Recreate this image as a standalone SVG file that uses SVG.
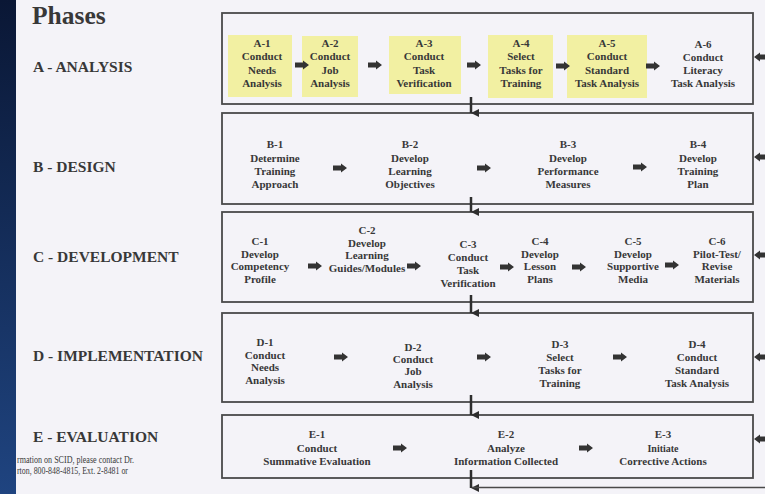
<svg xmlns="http://www.w3.org/2000/svg" xmlns:xlink="http://www.w3.org/1999/xlink" width="765" height="494" viewBox="0 0 765 494">
  <defs>
    <linearGradient id="bar" x1="0" y1="0" x2="0" y2="1">
      <stop offset="0" stop-color="#0a1735"/>
      <stop offset="1" stop-color="#1f4480"/>
    </linearGradient>
    <!-- small block arrow pointing right, origin at tail centre -->
    <path id="ar" d="M0,-2.5 H8 V-4.5 L14,0 L8,4.5 V2.5 H0 Z"/>
    <!-- block arrow pointing left, origin at tip -->
    <path id="al" d="M0,0 L6,-4.5 V-2.5 H12 V2.5 H6 V4.5 Z"/>
    <marker id="down" viewBox="0 0 8 8" refX="4" refY="8" markerWidth="8" markerHeight="8" markerUnits="userSpaceOnUse" orient="auto-start-reverse">
      <path d="M0,0 L8,0 L4,8 Z" fill="#2e2e2e"/>
    </marker>
    <style>
      .phase { fill: #f4f3f8; stroke: #4a4a4a; stroke-width: 1.8; }
      .hl { fill: #f2f0a2; }
      .t { font-family: "Liberation Serif", "Times New Roman", serif; font-weight: bold; font-size: 11px; fill: #383838; text-anchor: middle; }
      .lbl { font-family: "Liberation Serif", "Times New Roman", serif; font-weight: bold; font-size: 15.5px; fill: #383838; }
      .note { font-family: "Liberation Serif", "Times New Roman", serif; font-size: 9.8px; fill: #3a3a3a; }
      .arr { fill: #333333; }
      .flow { stroke: #2e2e2e; stroke-width: 2.5; fill: none; }
      .ret { stroke: #4a4a4a; stroke-width: 1.5; fill: none; }
    </style>
  </defs>

  <rect width="765" height="494" fill="#f4f3f8"/>

  <!-- heading and phase names -->
  <text x="32" y="24" font-family="'Liberation Serif', 'Times New Roman', serif" font-weight="bold" font-size="25.5" fill="#383838">Phases</text>
  <text class="lbl" x="33" y="72">A - ANALYSIS</text>
  <text class="lbl" x="33" y="172">B - DESIGN</text>
  <text class="lbl" x="33" y="262">C - DEVELOPMENT</text>
  <text class="lbl" x="33" y="361">D - IMPLEMENTATION</text>
  <text class="lbl" x="33" y="442">E - EVALUATION</text>

  <!-- contact note -->
  <text class="note" x="17" y="463" textLength="117" lengthAdjust="spacingAndGlyphs">rmation on SCID, please contact Dr.</text>
  <text class="note" x="17" y="474" textLength="111" lengthAdjust="spacingAndGlyphs">rton, 800-848-4815, Ext. 2-8481 or</text>

  <!-- phase frames -->
  <g id="phase-a"><rect class="phase" x="222" y="13" width="531" height="91"/></g>
  <g id="phase-b"><rect class="phase" x="222" y="113" width="531" height="91"/></g>
  <g id="phase-c"><rect class="phase" x="222" y="212" width="531" height="90"/></g>
  <g id="phase-d"><rect class="phase" x="222" y="313" width="531" height="89"/></g>
  <g id="phase-e"><rect class="phase" x="222" y="415" width="531" height="63"/></g>

  <!-- A: analysis steps -->
  <g id="a1"><rect class="hl" x="228" y="35" width="64" height="62"/>
    <text class="t" x="262" y="47">A-1<tspan x="262" dy="13.3">Conduct</tspan><tspan x="262" dy="13.3">Needs</tspan><tspan x="262" dy="13.3">Analysis</tspan></text></g>
  <g id="a2"><rect class="hl" x="302" y="36" width="56" height="61"/>
    <text class="t" x="330" y="47">A-2<tspan x="330" dy="13.3">Conduct</tspan><tspan x="330" dy="13.3">Job</tspan><tspan x="330" dy="13.3">Analysis</tspan></text></g>
  <g id="a3"><rect class="hl" x="389" y="36" width="72" height="58"/>
    <text class="t" x="424" y="47">A-3<tspan x="424" dy="13.3">Conduct</tspan><tspan x="424" dy="13.3">Task</tspan><tspan x="424" dy="13.3">Verification</tspan></text></g>
  <g id="a4"><rect class="hl" x="488" y="35" width="65" height="63"/>
    <text class="t" x="521" y="47">A-4<tspan x="521" dy="13.3">Select</tspan><tspan x="521" dy="13.3">Tasks for</tspan><tspan x="521" dy="13.3">Training</tspan></text></g>
  <g id="a5"><rect class="hl" x="567" y="35" width="80" height="63"/>
    <text class="t" x="607" y="47">A-5<tspan x="607" dy="13.3">Conduct</tspan><tspan x="607" dy="13.3">Standard</tspan><tspan x="607" dy="13.3">Task Analysis</tspan></text></g>
  <g id="a6">
    <text class="t" x="703" y="48">A-6<tspan x="703" dy="13">Conduct</tspan><tspan x="703" dy="13">Literacy</tspan><tspan x="703" dy="13">Task Analysis</tspan></text></g>

  <!-- B: design steps -->
  <g id="b1"><text class="t" x="275" y="148">B-1<tspan x="275" dy="14">Determine</tspan><tspan x="275" dy="13">Training</tspan><tspan x="275" dy="13">Approach</tspan></text></g>
  <g id="b2"><text class="t" x="410" y="148">B-2<tspan x="410" dy="14">Develop</tspan><tspan x="410" dy="13">Learning</tspan><tspan x="410" dy="13">Objectives</tspan></text></g>
  <g id="b3"><text class="t" x="568" y="148">B-3<tspan x="568" dy="14">Develop</tspan><tspan x="568" dy="13">Performance</tspan><tspan x="568" dy="13">Measures</tspan></text></g>
  <g id="b4"><text class="t" x="698" y="148">B-4<tspan x="698" dy="14">Develop</tspan><tspan x="698" dy="13">Training</tspan><tspan x="698" dy="13">Plan</tspan></text></g>

  <!-- C: development steps -->
  <g id="c1"><text class="t" x="260" y="245">C-1<tspan x="260" dy="12.7">Develop</tspan><tspan x="260" dy="12.7">Competency</tspan><tspan x="260" dy="12.7">Profile</tspan></text></g>
  <g id="c2"><text class="t" x="367" y="234">C-2<tspan x="367" dy="12.7">Develop</tspan><tspan x="367" dy="12.7">Learning</tspan><tspan x="367" dy="12.7">Guides/Modules</tspan></text></g>
  <g id="c3"><text class="t" x="468" y="248">C-3<tspan x="468" dy="13">Conduct</tspan><tspan x="468" dy="13">Task</tspan><tspan x="468" dy="13">Verification</tspan></text></g>
  <g id="c4"><text class="t" x="540" y="245">C-4<tspan x="540" dy="12.7">Develop</tspan><tspan x="540" dy="12.7">Lesson</tspan><tspan x="540" dy="12.7">Plans</tspan></text></g>
  <g id="c5"><text class="t" x="633" y="245">C-5<tspan x="633" dy="12.7">Develop</tspan><tspan x="633" dy="12.7">Supportive</tspan><tspan x="633" dy="12.7">Media</tspan></text></g>
  <g id="c6"><text class="t" x="717" y="245">C-6<tspan x="717" dy="12.7">Pilot-Test/</tspan><tspan x="717" dy="12.7">Revise</tspan><tspan x="717" dy="12.7">Materials</tspan></text></g>

  <!-- D: implementation steps -->
  <g id="d1"><text class="t" x="265" y="346">D-1<tspan x="265" dy="12.7">Conduct</tspan><tspan x="265" dy="12.7">Needs</tspan><tspan x="265" dy="12.7">Analysis</tspan></text></g>
  <g id="d2"><text class="t" x="413" y="351">D-2<tspan x="413" dy="12">Conduct</tspan><tspan x="413" dy="12">Job</tspan><tspan x="413" dy="12.7">Analysis</tspan></text></g>
  <g id="d3"><text class="t" x="560" y="348">D-3<tspan x="560" dy="13.3">Select</tspan><tspan x="560" dy="13">Tasks for</tspan><tspan x="560" dy="12.7">Training</tspan></text></g>
  <g id="d4"><text class="t" x="697" y="348">D-4<tspan x="697" dy="13.3">Conduct</tspan><tspan x="697" dy="13">Standard</tspan><tspan x="697" dy="12.7">Task Analysis</tspan></text></g>

  <!-- E: evaluation steps -->
  <g id="e1"><text class="t" x="317" y="438">E-1<tspan x="317" dy="13.5">Conduct</tspan><tspan x="317" dy="13">Summative Evaluation</tspan></text></g>
  <g id="e2"><text class="t" x="506" y="438">E-2<tspan x="506" dy="13.5">Analyze</tspan><tspan x="506" dy="13">Information Collected</tspan></text></g>
  <g id="e3"><text class="t" x="663" y="438">E-3<tspan x="663" dy="13.5" font-size="10">Initiate</tspan><tspan x="663" dy="13">Corrective Actions</tspan></text></g>

  <!-- connectors -->
  <g id="connectors">
    <g class="arr">
      <use href="#ar" x="295" y="65"/><use href="#ar" x="368" y="65"/><use href="#ar" x="467" y="65"/>
      <use href="#ar" x="556" y="66"/><use href="#ar" x="646" y="66"/>
      <use href="#ar" x="333" y="168"/><use href="#ar" x="477" y="168"/><use href="#ar" x="633" y="167"/>
      <use href="#ar" x="308" y="266"/><use href="#ar" x="407" y="266"/><use href="#ar" x="500" y="267"/>
      <use href="#ar" x="572" y="267"/><use href="#ar" x="665" y="265"/>
      <use href="#ar" x="334" y="357"/><use href="#ar" x="477" y="357"/><use href="#ar" x="613" y="357"/>
      <use href="#ar" x="393" y="448"/><use href="#ar" x="579" y="448"/>
      <!-- return arrows entering each phase from the right -->
      <use href="#al" x="754" y="57"/><use href="#al" x="754" y="157"/><use href="#al" x="754" y="255"/>
      <use href="#al" x="754" y="357"/><use href="#al" x="754" y="439"/>
    </g>
    <line class="flow" x1="471" y1="97" x2="471" y2="113" marker-end="url(#down)"/>
    <line class="flow" x1="471" y1="197" x2="471" y2="212" marker-end="url(#down)"/>
    <line class="flow" x1="471" y1="295" x2="471" y2="313" marker-end="url(#down)"/>
    <line class="flow" x1="471" y1="395" x2="471" y2="415" marker-end="url(#down)"/>
    <line class="flow" x1="471" y1="470" x2="471" y2="488" marker-end="url(#down)"/>
    <line class="ret" x1="472" y1="487.5" x2="765" y2="487.5"/>
  </g>

  <!-- side bar -->
  <rect x="0" y="0" width="16" height="494" fill="url(#bar)"/>
</svg>
